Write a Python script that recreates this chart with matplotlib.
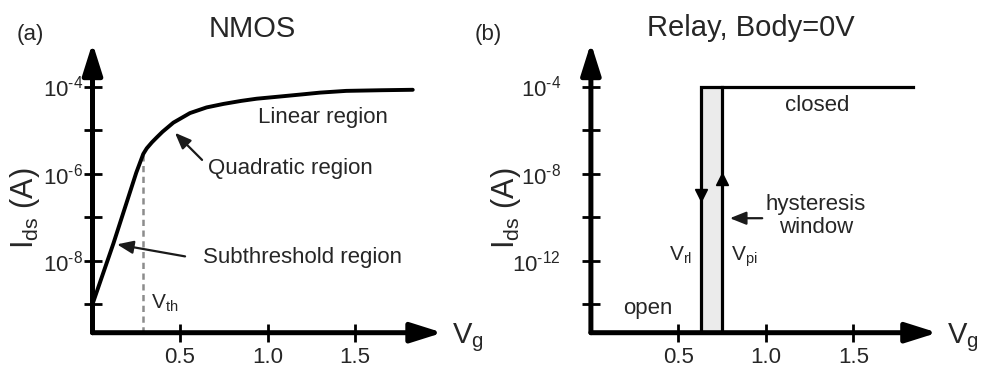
import numpy as np
import matplotlib
matplotlib.use("Agg")
import matplotlib.pyplot as plt
from matplotlib.ticker import NullLocator

plt.rcParams['font.family'] = ['Liberation Sans', 'DejaVu Sans']
plt.rcParams['mathtext.fontset'] = 'custom'
plt.rcParams['mathtext.rm'] = 'Liberation Sans'
plt.rcParams['mathtext.it'] = 'Liberation Sans:italic'
plt.rcParams['mathtext.bf'] = 'Liberation Sans:bold'
plt.rcParams['mathtext.sf'] = 'Liberation Sans'
plt.rcParams['mathtext.default'] = 'rm'

# ---------------- data ----------------
# (a) NMOS transfer curve: gate voltage (V) and log10 of drain current (A)
nmos_vg = [0.0, 0.12, 0.25, 0.29, 0.31, 0.34, 0.367, 0.40, 0.462, 0.557, 0.652,
           0.748, 0.85, 0.938, 1.07, 1.2, 1.3, 1.45, 1.65, 1.83]
nmos_log_ids = [-9.0, -7.6, -5.98, -5.55, -5.42, -5.28, -5.17, -5.04, -4.83, -4.61, -4.48,
                -4.40, -4.33, -4.28, -4.23, -4.18, -4.14, -4.10, -4.085, -4.075]
v_th = 0.29
v_th_log_ids = -5.52

# (b) relay hysteresis
v_rl = 0.627
v_pi = 0.747
relay_v_end = 1.84
relay_log_on = -4.0
relay_log_off = -15.3

# axes ranges (log10 of current)
a_ylog = (-9.656, -3.0)
b_ylog = (-15.31, -2.0)
HY = '\u2010'
a_yticks_log = [-4, -5, -6, -7, -8, -9]
a_ytick_labels = ['$10^{%s4}$' % HY, '', '$10^{%s6}$' % HY, '', '$10^{%s8}$' % HY, '']
b_yticks_log = [-4, -6, -8, -10, -12, -14]
b_ytick_labels = ['$10^{%s4}$' % HY, '', '$10^{%s8}$' % HY, '', '$10^{%s12}$' % HY, '']
x_ticks = [0.5, 1.0, 1.5]
x_tick_labels = ['0.5', '1.0', '1.5']

TXT = '#262626'

fig = plt.figure(figsize=(9.88, 3.69), dpi=100)
W, H = 988.0, 369.0
axA = fig.add_axes([92.5 / W, (H - 332.7) / H, 350 / W, (332.7 - 43) / H])
axB = fig.add_axes([590.9 / W, (H - 332.7) / H, 350 / W, (332.7 - 43) / H])


def setup(ax, ylog, yt, ytl, ypad, xarrow_end):
    ax.set_yscale('log')
    ax.set_xlim(0, 2.0)
    ax.set_ylim(10 ** ylog[0], 10 ** ylog[1])
    for s in ax.spines.values():
        s.set_visible(False)
    ax.patch.set_alpha(0)
    ax.set_yticks([10.0 ** v for v in yt], ytl)
    ax.yaxis.set_minor_locator(NullLocator())
    ax.set_xticks(x_ticks, x_tick_labels)
    ax.tick_params(axis='both', direction='inout', length=13, width=2,
                   color='black', labelsize=16, labelcolor=TXT)
    ax.tick_params(axis='y', pad=ypad)
    ax.tick_params(axis='x', pad=4)
    # axes with arrow heads
    ap = dict(arrowstyle='-|>,head_length=0.95,head_width=0.3', lw=3.6,
              color='black', shrinkA=0, shrinkB=0, mutation_scale=20)
    ax.annotate('', xy=(0, 1), xytext=(0, 0), xycoords='axes fraction',
                textcoords='axes fraction', arrowprops=ap, annotation_clip=False)
    ax.annotate('', xy=(xarrow_end, 0), xytext=(0, 0), xycoords='axes fraction',
                textcoords='axes fraction', arrowprops=ap, annotation_clip=False)
    ax.text(xarrow_end + 0.028, -0.035, 'V$_{\\mathrm{g}}$', transform=ax.transAxes,
            fontsize=21, color=TXT, ha='left', va='baseline')


setup(axA, a_ylog, a_yticks_log, a_ytick_labels, 0.5, 1.0)
setup(axB, b_ylog, b_yticks_log, b_ytick_labels, 15, 0.99)

# ---------------- panel (a) ----------------
axA.plot(nmos_vg, [10.0 ** v for v in nmos_log_ids], color='black', lw=2.8,
         solid_capstyle='round', solid_joinstyle='round', zorder=3)
axA.plot([v_th, v_th], [10 ** a_ylog[0], 10 ** v_th_log_ids], color='#8c8c8c',
         lw=1.8, ls=(0, (2.5, 1.8)), zorder=2)
axA.text(0.333, 10 ** -9.1, 'V$_{\\mathrm{th}}$', fontsize=15, color=TXT,
         ha='left', va='baseline')
axA.text(0.946, 10 ** -4.716, 'Linear region', fontsize=16, color=TXT,
         ha='left', va='center')
axA.text(0.66, 10 ** -5.894, 'Quadratic region', fontsize=16, color=TXT,
         ha='left', va='center')
axA.text(0.631, 10 ** -7.926, 'Subthreshold region', fontsize=16, color=TXT,
         ha='left', va='center')
thin = dict(arrowstyle='-|>,head_length=0.7,head_width=0.28', lw=1.6,
            color='#1a1a1a', shrinkA=0, shrinkB=0, mutation_scale=14)
axA.annotate('', xy=(0.471, 10 ** -5.062), xytext=(0.626, 10 ** -5.686),
             arrowprops=thin)
axA.annotate('', xy=(0.14, 10 ** -7.626), xytext=(0.529, 10 ** -7.903),
             arrowprops=thin)
axA.text(0.4557, 1.048, 'NMOS', transform=axA.transAxes, fontsize=21,
         color=TXT, ha='center', va='center')
axA.text(-0.2157, 1.028, '(a)', transform=axA.transAxes, fontsize=16,
         color=TXT, ha='left', va='center')
axA.text(-0.193, 0.43, 'I$_{\\mathrm{ds}}$ (A)', transform=axA.transAxes,
         fontsize=22, color=TXT, ha='center', va='center', rotation=90)

# ---------------- panel (b) ----------------
on = 10 ** relay_log_on
off = 10 ** relay_log_off
axB.fill_between([v_rl, v_pi], off, on, color='#ebebeb', lw=0, zorder=1)
axB.plot([v_rl, v_rl, relay_v_end], [off, on, on], color='black', lw=2.3,
         solid_joinstyle='miter', zorder=3)
axB.plot([v_pi, v_pi], [off, on], color='black', lw=2.3, zorder=3)
axB.plot([v_rl], [10 ** -9.0], marker='v', ms=8, color='black', zorder=4)
axB.plot([v_pi], [10 ** -8.25], marker='^', ms=8, color='black', zorder=4)
axB.text(1.292, 10 ** -4.878, 'closed', fontsize=16, color=TXT,
         ha='center', va='center')
axB.text(1.286, 10 ** -9.935, 'hysteresis\nwindow', fontsize=16, color=TXT,
         ha='center', va='center', linespacing=1.15)
axB.annotate('', xy=(0.794, 10 ** -10.05), xytext=(0.979, 10 ** -10.05),
             arrowprops=thin)
axB.text(0.447, 10 ** -12.0, 'V$_{\\mathrm{rl}}$', fontsize=15, color=TXT,
         ha='left', va='baseline')
axB.text(0.80, 10 ** -12.0, 'V$_{\\mathrm{pi}}$', fontsize=15, color=TXT,
         ha='left', va='baseline')
axB.text(0.327, 10 ** -14.21, 'open', fontsize=16, color=TXT,
         ha='center', va='center')
axB.text(0.4566, 1.052, 'Relay, Body=0V', transform=axB.transAxes, fontsize=21,
         color=TXT, ha='center', va='center')
axB.text(-0.331, 1.028, '(b)', transform=axB.transAxes, fontsize=16,
         color=TXT, ha='left', va='center')
axB.text(-0.243, 0.43, 'I$_{\\mathrm{ds}}$ (A)', transform=axB.transAxes,
         fontsize=22, color=TXT, ha='center', va='center', rotation=90)

fig.savefig('out.png', dpi=100)
